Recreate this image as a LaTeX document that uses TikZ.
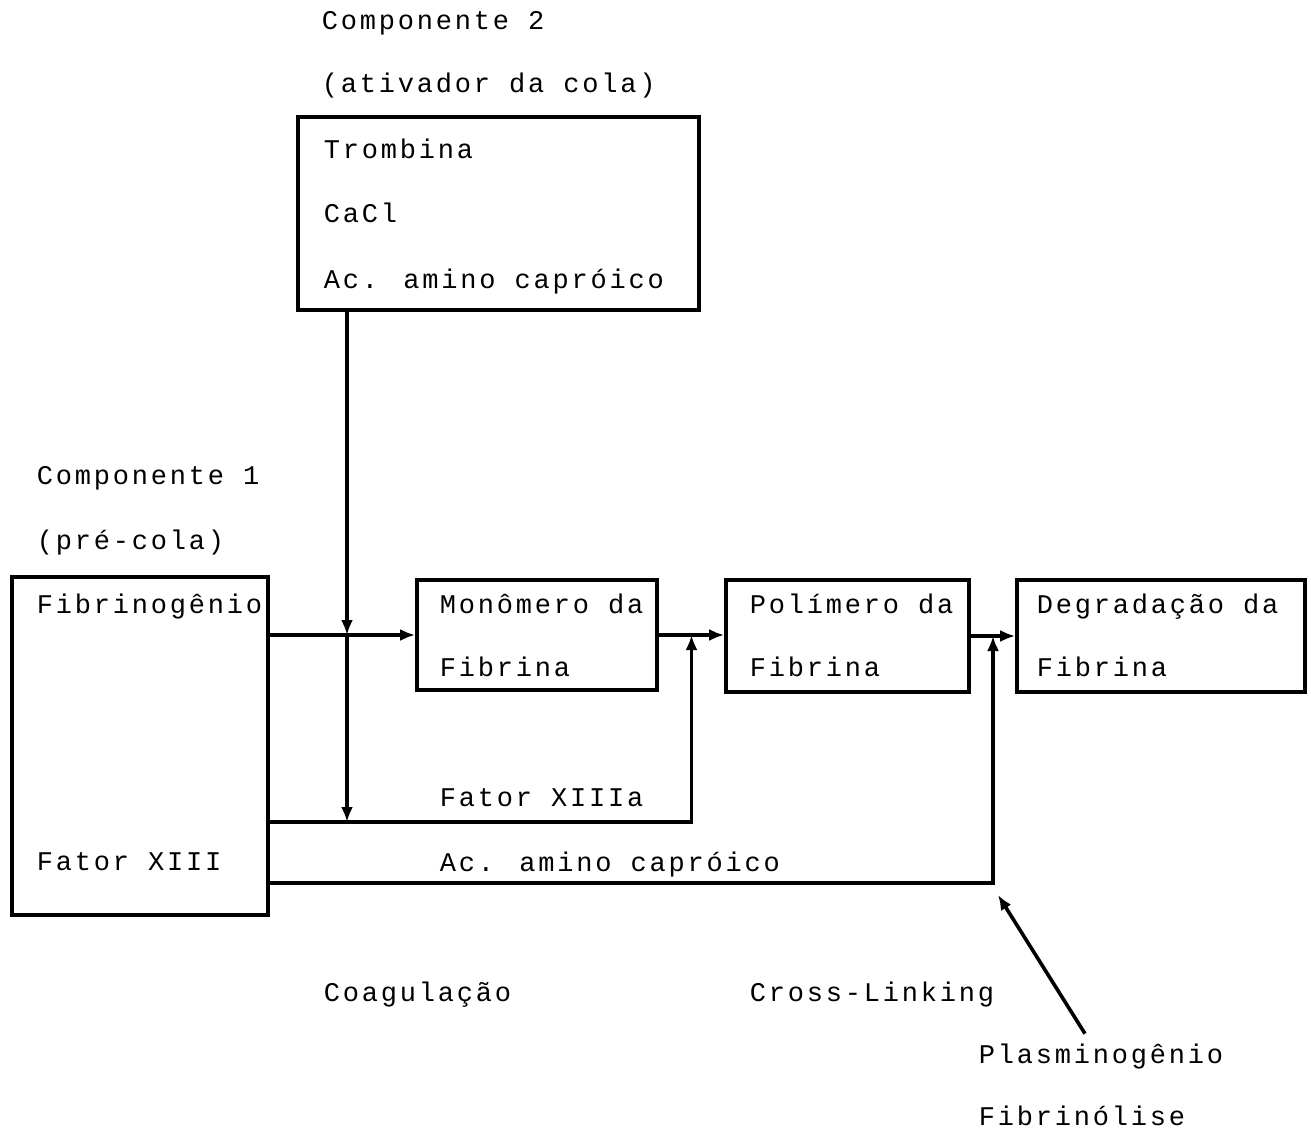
\documentclass[tikz,border=0pt]{standalone}
\usepackage{fontspec}
\setmainfont{Liberation Mono}[LetterSpace=10.4]
\usetikzlibrary{arrows.meta,calc}

\begin{document}
\begin{tikzpicture}[x=0.5pt, y=-0.5pt, >={Latex[length=7.5pt,width=6pt]}, line width=1.8pt,
  every node/.style={font=\fontsize{13.5}{16}\selectfont},
  txt/.style={anchor=base west, inner sep=0pt},
  box/.style={draw, inner sep=0pt}]
\useasboundingbox (0,0) rectangle (1311,1134);
% caixas
\node[box, minimum width=200.5pt, minimum height=96.5pt] (c2) at (498.5,213.5) {};
\node[box, minimum width=128pt, minimum height=169pt] (c1) at (140,746) {};
\node[box, minimum width=120pt, minimum height=55pt] (mono) at (537,635) {};
\node[box, minimum width=121.5pt, minimum height=56pt] (poli) at (847.5,636) {};
\node[box, minimum width=144pt, minimum height=56pt] (degr) at (1161,636) {};
% textos
\node[txt] (tcomp2) at (320,30) {Componente 2};
\node[txt] (tativ) at (320,93) {(ativador da cola)};
\node[txt] (ttromb) at (322,159) {Trombina};
\node[txt] (tcacl) at (322,223) {CaCl};
\node[txt] (tacido) at (322,288) {Ac. amino capróico};
\node[txt] (tcomp1) at (35,484) {Componente 1};
\node[txt] (tprec) at (35,549) {(pré-cola)};
\node[txt] (tfbg) at (35,613) {Fibrinogênio};
\node[txt] (tfator) at (35,870) {Fator XIII};
\node[txt] (tmono) at (438,613) {Monômero da};
\node[txt] (tmonof) at (438,676) {Fibrina};
\node[txt] (tpoli) at (748,613) {Polímero da};
\node[txt] (tpolif) at (748,676) {Fibrina};
\node[txt] (tdegr) at (1035,613) {Degradação da};
\node[txt] (tdegrf) at (1035,676) {Fibrina};
\node[txt] (tfxa) at (438,806) {Fator XIIIa};
\node[txt] (taca) at (438,871) {Ac. amino capróico};
\node[txt] (tcoag) at (322,1001) {Coagulação};
\node[txt] (tcross) at (748,1001) {Cross-Linking};
\node[txt] (plasm) at (977,1063) {Plasminogênio};
\node[txt] (tfibl) at (977,1125) {Fibrinólise};
% pontos
\coordinate (vt) at (347,0);
\coordinate (fxa) at (0,822);
\coordinate (aca) at (0,883);
\coordinate (j1) at ($(mono.east)!0.5!(poli.west)$);
\coordinate (j2) at ($(poli.east)!0.5!(degr.west)$);
\coordinate (xl) at (998,895);
% setas
\draw[->] (vt |- c2.south) -- (vt |- mono.west);
\draw[->] (vt |- mono.west) -- (vt |- fxa);
\draw[->] (c1.east |- mono.west) -- (mono.west);
\draw[->] (mono.east) -- (mono.east -| poli.west);
\draw[->] (poli.east) -- (poli.east -| degr.west);
\draw[->] (c1.east |- fxa) -| (j1 |- mono.east);
\draw[->] (c1.east |- aca) -| (j2 |- poli.east);
\draw[->] ([xshift=-8pt,yshift=4pt]plasm.north) -- (xl);
\end{tikzpicture}
\end{document}
